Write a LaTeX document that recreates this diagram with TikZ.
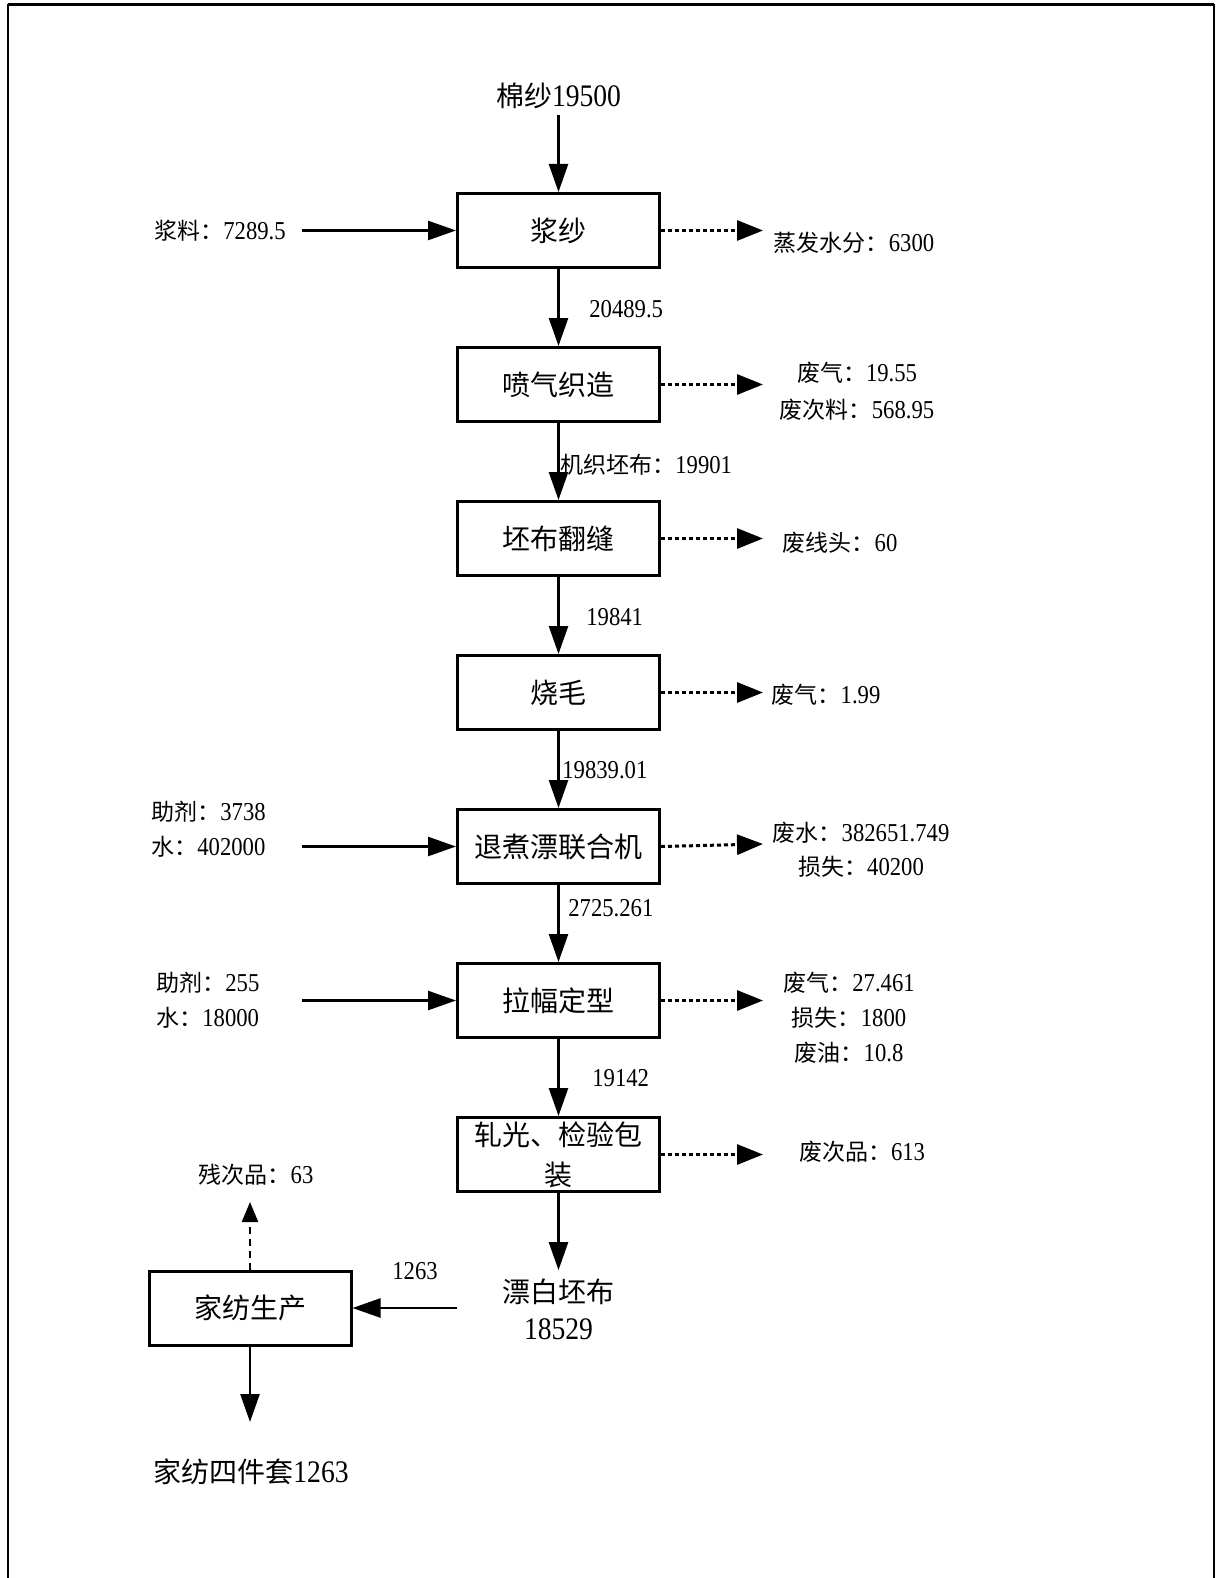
\documentclass[tikz,border=0pt]{standalone}
\usepackage{fontspec}
\setmainfont{Liberation Serif}[Scale=1.12, FakeStretch=0.88]
\newfontfamily\cjk{Noto Sans CJK SC}
\newcommand{\C}[1]{{\cjk #1}}
\newcommand{\fbig}{\fontsize{14}{20}\selectfont}
\newcommand{\fsmall}{\fontsize{11.5}{17.75}\selectfont}
\usetikzlibrary{arrows.meta}
\begin{document}
\begin{tikzpicture}[x=0.5pt,y=-0.5pt,
  box/.style={draw, line width=1.5pt, minimum width=101pt, minimum height=37pt, inner sep=0pt, font=\fbig, align=center},
  big/.style={font=\fbig, inner sep=0pt, align=center},
  small/.style={font=\fsmall, inner sep=0pt, align=center},
  arr/.style={line width=1.25pt, -{Triangle[length=14pt,width=9.5pt]}},
  dotarr/.style={line width=1.5pt, dash pattern=on 2pt off 1.5pt, -{Triangle[length=13pt,width=10pt]}},
  dasharr/.style={line width=1.25pt, dash pattern=on 3.5pt off 2.5pt, -{Triangle[length=10pt,width=8pt]}},
]
\useasboundingbox (0,0) rectangle (1219,1578);
% frame
\draw[line width=1.5pt] (8,5) -- (1214,5);
\draw[line width=1pt] (8,4) -- (8,1578);
\draw[line width=1pt] (1214,4) -- (1214,1578);

% main column
\node[big] (mian) at (558.5,96) {\C{棉纱}19500};
\node[box] (b1) at (558.5,230.5) {\C{浆纱}};
\node[box] (b2) at (558.5,384.5) {\C{喷气织造}};
\node[box] (b3) at (558.5,538.5) {\C{坯布翻缝}};
\node[box] (b4) at (558.5,692.5) {\C{烧毛}};
\node[box] (b5) at (558.5,846.5) {\C{退煮漂联合机}};
\node[box] (b6) at (558.5,1000.5) {\C{拉幅定型}};
\node[box] (b7) at (558.5,1154.5) {\C{轧光、检验包}\\\C{装}};
\node[big, font=\fontsize{14}{18.5}\selectfont] (piao) at (558.5,1309) {\C{漂白坯布}\\18529};
\node[box] (b8) at (250,1308) {\C{家纺生产}};
\node[big] (tao) at (251,1472) {\C{家纺四件套}1263};

\draw[arr, shorten <=3pt] (mian) -- (b1);
\draw[arr] (b1) -- (b2);
\draw[arr] (b2) -- (b3);
\draw[arr] (b3) -- (b4);
\draw[arr] (b4) -- (b5);
\draw[arr] (b5) -- (b6);
\draw[arr] (b6) -- (b7);
\draw[arr, shorten >=4pt] (b7) -- (piao);

% flow labels
\node[small, anchor=west] (f1) at (589,309) {20489.5};
\node[small, anchor=west] (f2) at (560,465) {\C{机织坯布：}19901};
\node[small, anchor=west] (f3) at (586,617) {19841};
\node[small, anchor=west] (f4) at (562,770) {19839.01};
\node[small, anchor=west] (f5) at (568,908) {2725.261};
\node[small, anchor=west] (f6) at (592,1078) {19142};

% left inputs
\coordinate (i1) at (302,230.5);
\coordinate (i5) at (302,846.5);
\coordinate (i6) at (302,1000.5);
\node[small, anchor=west] (l1) at (154,231) {\C{浆料：}7289.5};
\node[small, anchor=west, align=left, font=\fontsize{11.5}{17.5}\selectfont] (l5) at (151,829.5) {\C{助剂：}3738\\\C{水：}402000};
\node[small, anchor=west, align=left, font=\fontsize{11.5}{17.5}\selectfont] (l6) at (156,1000.5) {\C{助剂：}255\\\C{水：}18000};
\draw[arr] (i1) -- (b1.west);
\draw[arr] (i5) -- (b5.west);
\draw[arr] (i6) -- (b6.west);

% right outputs
\coordinate (o1) at (763,230.5);
\coordinate (o2) at (763,384.5);
\coordinate (o3) at (763,538.5);
\coordinate (o4) at (763,692.5);
\coordinate (o5) at (763,844);
\coordinate (o6) at (763,1000.5);
\coordinate (o7) at (763,1154.5);
\draw[dotarr] (b1.east) -- (o1);
\draw[dotarr] (b2.east) -- (o2);
\draw[dotarr] (b3.east) -- (o3);
\draw[dotarr] (b4.east) -- (o4);
\draw[dotarr] (b5.east) -- (o5);
\draw[dotarr] (b6.east) -- (o6);
\draw[dotarr] (b7.east) -- (o7);
\node[small] (w1) at (854,243) {\C{蒸发水分：}6300};
\node[small, font=\fontsize{11.5}{18.5}\selectfont] (w2) at (857,391.5) {\C{废气：}19.55\\\C{废次料：}568.95};
\node[small] (w3) at (840,543) {\C{废线头：}60};
\node[small] (w4) at (826,695) {\C{废气：}1.99};
\node[small, font=\fontsize{11.5}{17}\selectfont] (w5) at (861,850) {\C{废水：}382651.749\\\C{损失：}40200};
\node[small, font=\fontsize{11.5}{17.5}\selectfont] (w6) at (849,1018) {\C{废气：}27.461\\\C{损失：}1800\\\C{废油：}10.8};
\node[small] (w7) at (862,1152) {\C{废次品：}613};

% bottom left
\coordinate (p1) at (457,1308);
\coordinate (r1) at (250,1202);
\coordinate (t1) at (250,1422);
\draw[arr] (p1) -- (b8.east);
\node[small] (n1263) at (415,1271) {1263};
\draw[dasharr] (b8.north) -- (r1);
\node[small] (cc) at (256,1175) {\C{残次品：}63};
\draw[arr] (b8.south) -- (t1);
\end{tikzpicture}
\end{document}
